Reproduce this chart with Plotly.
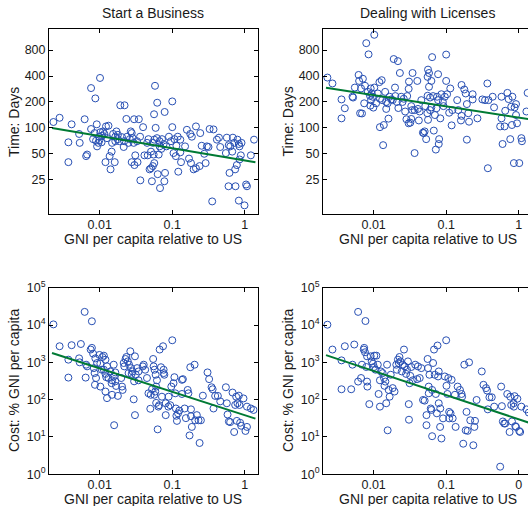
import plotly.graph_objects as go

# ---------------- data ----------------
# Panel 1: Start a Business - time (days) vs GNI per capita relative to US
biz_time_gni = [0.0023, 0.0028, 0.0037, 0.0037, 0.0041, 0.0052, 0.0053, 0.0062, 0.0065, 0.0067,
                0.0076, 0.0087, 0.0076, 0.0085, 0.0091, 0.0081, 0.0089, 0.0096, 0.0101, 0.0102,
                0.0108, 0.0116, 0.0099, 0.0106, 0.0122, 0.0132, 0.0126, 0.012, 0.0137, 0.0146,
                0.0141, 0.0161, 0.0153, 0.0164, 0.0148, 0.0178, 0.0192, 0.022, 0.0233, 0.0203,
                0.0217, 0.0238, 0.0214, 0.0249, 0.0276, 0.0284, 0.0298, 0.0346, 0.0276, 0.0301,
                0.0309, 0.0332, 0.0363, 0.0396, 0.0413, 0.0459, 0.0294, 0.0327, 0.0487, 0.0509,
                0.054, 0.0524, 0.0565, 0.0578, 0.062, 0.0561, 0.059, 0.0565, 0.0615, 0.054,
                0.067, 0.0722, 0.076, 0.067, 0.0509, 0.0553, 0.065, 0.0705, 0.063, 0.0678,
                0.0778, 0.0795, 0.0785, 0.1, 0.1, 0.096, 0.107, 0.114, 0.119, 0.104,
                0.112, 0.121, 0.129, 0.132, 0.159, 0.177, 0.186, 0.17, 0.181, 0.197,
                0.212, 0.212, 0.243, 0.254, 0.238, 0.276, 0.288, 0.327, 0.37, 0.412,
                0.44, 0.458, 0.355, 0.316, 0.548, 0.565, 0.6, 0.615, 0.596, 0.744,
                0.684, 0.713, 0.792, 0.827, 0.844, 0.776, 0.736, 0.844, 0.881, 0.827,
                0.99, 1.04, 1.07, 1.21, 1.34, 0.0098, 0.0111, 0.0092, 0.0178, 0.017,
                0.026, 0.0268, 0.0164, 0.0187, 0.036, 0.045, 0.047, 0.09, 0.083, 0.129,
                0.15, 0.3, 0.63, 0.67, 0.9]
biz_time_days = [117, 131, 68, 40, 110, 85, 67, 126, 47, 49,
                 290, 220, 97, 87, 110, 74, 71, 67, 380, 89,
                 81, 85, 72, 68, 104, 106, 76, 40, 47, 53,
                 33, 40, 85, 70, 67, 74, 183, 183, 127, 78,
                 70, 79, 60, 67, 87, 76, 126, 126, 40, 37,
                 48, 40, 24.6, 102, 48, 48, 67, 70, 33, 34,
                 36, 24, 39, 308, 196, 144, 100, 73, 76, 67,
                 70, 74, 65, 61, 53, 49, 49, 57, 29, 20,
                 24, 30, 153, 203, 102, 70, 74, 62, 79, 51,
                 47, 31, 52, 40, 95, 85, 79, 44, 39, 33,
                 34, 104, 87, 62, 36, 50, 39, 97, 96, 73,
                 77, 60, 14, 60, 51, 77, 63, 30, 21, 21,
                 77, 67, 73, 65, 61, 37, 33, 43, 48, 14.3,
                 12.6, 22, 21, 48, 73, 79, 91, 61, 83, 91,
                 74, 91, 79, 70, 79, 67, 74, 79, 61, 73,
                 61, 61, 61, 53, 67]

# Panel 2: Dealing with Licenses - time (days)
lic_time_gni = [0.0023, 0.0027, 0.0036, 0.004, 0.0036, 0.0051, 0.0052, 0.0055, 0.0062, 0.0063,
                0.0067, 0.0065, 0.0069, 0.0071, 0.0076, 0.0079, 0.0085, 0.0074, 0.0083, 0.0091,
                0.0089, 0.0092, 0.0102, 0.0102, 0.0097, 0.009, 0.0099, 0.0114, 0.012, 0.0129,
                0.0122, 0.0131, 0.0144, 0.0149, 0.0149, 0.0122, 0.0138, 0.016, 0.0135, 0.0166,
                0.0174, 0.0189, 0.0199, 0.0197, 0.0216, 0.0209, 0.0219, 0.023, 0.024, 0.025,
                0.026, 0.0272, 0.029, 0.0304, 0.0307, 0.0283, 0.0304, 0.033, 0.032, 0.0344,
                0.033, 0.034, 0.04, 0.0408, 0.0367, 0.042, 0.0478, 0.0505, 0.049, 0.053,
                0.0562, 0.058, 0.0555, 0.058, 0.0555, 0.06, 0.0515, 0.055, 0.06, 0.0562,
                0.0625, 0.064, 0.0625, 0.066, 0.07, 0.0675, 0.0774, 0.075, 0.0774, 0.072,
                0.08, 0.079, 0.083, 0.086, 0.0958, 0.092, 0.1, 0.1, 0.103, 0.11,
                0.114, 0.119, 0.122, 0.142, 0.163, 0.163, 0.16, 0.178, 0.186, 0.193,
                0.193, 0.202, 0.207, 0.232, 0.232, 0.27, 0.316, 0.344, 0.37, 0.383,
                0.376, 0.438, 0.458, 0.58, 0.58, 0.556, 0.6, 0.64, 0.653, 0.7,
                0.727, 0.766, 0.79, 0.82, 0.808, 0.86, 0.88, 0.92, 0.92, 0.95,
                1.02, 1.09, 1.11, 1.28, 1.33, 0.0094, 0.0108, 0.0156, 0.0183, 0.0367,
                0.0431, 0.0454, 0.0735, 0.09, 0.147]
lic_time_days = [384, 328, 214, 169, 129, 230, 225, 294, 412, 351,
                 287, 148, 147, 372, 308, 963, 714, 193, 262, 287,
                 236, 210, 1205, 294, 230, 181, 172, 251, 340, 358,
                 218, 210, 262, 200, 166, 102, 108, 128, 63, 230,
                 214, 630, 234, 294, 596, 200, 170, 434, 230, 200,
                 218, 155, 234, 284, 345, 126, 113, 127, 115, 434,
                 179, 161, 351, 166, 51, 122, 88, 91, 87, 74,
                 475, 434, 391, 300, 236, 225, 179, 148, 161, 124,
                 173, 663, 351, 234, 141, 93, 420, 230, 210, 56,
                 74, 65, 129, 246, 230, 179, 710, 351, 246, 150,
                 287, 107, 161, 210, 315, 138, 122, 279, 251, 189,
                 73, 148, 118, 246, 214, 129, 214, 210, 328, 210,
                 34, 230, 173, 230, 129, 104, 65, 104, 158, 255,
                 216, 74, 176, 230, 108, 39, 173, 189, 141, 113,
                 39, 76, 70, 155, 255, 251, 193, 193, 210, 161,
                 155, 210, 169, 200, 161]

# Panel 3: Start a Business - cost (% of GNI per capita)
biz_cost_gni = [0.0023, 0.0028, 0.0037, 0.0037, 0.0041, 0.0052, 0.0055, 0.0053, 0.0062, 0.0064,
                0.0065, 0.0067, 0.0078, 0.0075, 0.0078, 0.0081, 0.0087, 0.0083, 0.0085, 0.0089,
                0.0086, 0.0092, 0.0099, 0.0102, 0.0107, 0.0109, 0.0114, 0.0102, 0.0114, 0.012,
                0.012, 0.0123, 0.012, 0.0126, 0.0126, 0.0132, 0.014, 0.0146, 0.0148, 0.0156,
                0.0156, 0.0164, 0.0168, 0.0148, 0.0158, 0.0164, 0.0178, 0.0203, 0.0207, 0.0198,
                0.0214, 0.0218, 0.0227, 0.0233, 0.0244, 0.0254, 0.0264, 0.025, 0.027, 0.0276,
                0.0284, 0.0298, 0.0306, 0.0294, 0.0306, 0.0314, 0.0327, 0.0343, 0.0343, 0.0393,
                0.0404, 0.0423, 0.0448, 0.047, 0.0505, 0.0498, 0.0526, 0.0545, 0.0553, 0.057,
                0.0565, 0.0583, 0.06, 0.0615, 0.059, 0.06, 0.0629, 0.0644, 0.0658, 0.067,
                0.0699, 0.072, 0.0746, 0.076, 0.0777, 0.076, 0.0812, 0.0812, 0.0883, 0.089,
                0.0938, 0.097, 0.1, 0.104, 0.107, 0.11, 0.112, 0.114, 0.116, 0.12,
                0.125, 0.136, 0.14, 0.136, 0.148, 0.154, 0.163, 0.167, 0.173, 0.177,
                0.181, 0.181, 0.186, 0.203, 0.207, 0.218, 0.23, 0.238, 0.248, 0.264,
                0.306, 0.322, 0.348, 0.36, 0.37, 0.39, 0.425, 0.458, 0.548, 0.578,
                0.565, 0.603, 0.628, 0.677, 0.713, 0.736, 0.76, 0.776, 0.792, 0.827,
                0.844, 0.862, 0.89, 0.958, 1.02, 1.07, 1.07, 1.21, 1.32]
biz_cost_pct = [10400, 2700, 1180, 390, 2880, 1280, 3100, 1000, 22500, 390,
                865, 780, 12600, 2200, 2440, 1710, 1280, 700, 515, 380,
                250, 960, 1580, 920, 634, 1390, 1510, 224, 634, 1180,
                490, 400, 165, 110, 780, 380, 570, 276, 330, 865,
                419, 310, 233, 135, 20.7, 537, 126, 224, 182, 380,
                960, 780, 1230, 1390, 1060, 865, 1980, 515, 700, 490,
                570, 310, 1450, 102, 38.5, 465, 700, 570, 330, 780,
                865, 634, 380, 148, 135, 57, 190, 1230, 780, 634,
                135, 165, 224, 330, 465, 82, 16, 65, 71, 2200,
                740, 120, 2700, 515, 465, 634, 80, 38.5, 65, 120,
                71, 224, 3900, 276, 400, 148, 58, 37, 27, 43,
                51, 340, 355, 142, 58, 32, 182, 148, 11, 740,
                55, 36, 18.6, 865, 28, 38.5, 28, 6.9, 28, 128,
                537, 355, 215, 190, 58, 126, 126, 90, 215, 40,
                80, 26, 25, 155, 13.6, 72, 120, 27, 80, 128,
                72, 24, 20, 108, 14.5, 18.6, 65, 58, 53]

# Panel 4: Dealing with Licenses - cost (% of GNI per capita)
lic_cost_gni = [0.0023, 0.0027, 0.0036, 0.0036, 0.004, 0.0049, 0.0054, 0.0051, 0.0061, 0.0061,
                0.0067, 0.0069, 0.0073, 0.0074, 0.0077, 0.0076, 0.0081, 0.0079, 0.0081, 0.0082,
                0.0087, 0.0091, 0.0094, 0.0098, 0.0101, 0.0102, 0.0109, 0.0106, 0.0114, 0.0117,
                0.0122, 0.0126, 0.0122, 0.0133, 0.0139, 0.0141, 0.0145, 0.0149, 0.0156, 0.0153,
                0.0161, 0.0166, 0.0172, 0.0183, 0.0194, 0.0205, 0.0209, 0.0216, 0.0222, 0.0227,
                0.0234, 0.0244, 0.0252, 0.0262, 0.0267, 0.028, 0.0288, 0.0297, 0.0305, 0.0307,
                0.0313, 0.032, 0.033, 0.0346, 0.0374, 0.0408, 0.0398, 0.0432, 0.0454, 0.048,
                0.0505, 0.0535, 0.0535, 0.0555, 0.0562, 0.0575, 0.0575, 0.0588, 0.0613, 0.064,
                0.066, 0.0625, 0.064, 0.068, 0.0696, 0.072, 0.0744, 0.076, 0.079, 0.0774,
                0.079, 0.083, 0.0825, 0.0861, 0.0906, 0.0958, 0.1, 0.101, 0.107, 0.104,
                0.11, 0.11, 0.115, 0.119, 0.123, 0.132, 0.135, 0.144, 0.155, 0.163,
                0.166, 0.172, 0.178, 0.186, 0.191, 0.198, 0.207, 0.215, 0.237, 0.245,
                0.25, 0.263, 0.31, 0.327, 0.355, 0.367, 0.375, 0.395, 0.426, 0.46,
                0.556, 0.574, 0.587, 0.605, 0.632, 0.653, 0.696, 0.75, 0.766, 0.79,
                0.808, 0.852, 0.86, 0.88, 0.9, 0.92, 0.96, 1.02, 1.05, 1.09,
                1.28, 1.38]
lic_cost_pct = [10200, 2200, 1130, 190, 2700, 190, 3000, 865, 22500, 305,
                380, 865, 2200, 2440, 12800, 1860, 1450, 750, 305, 224,
                76, 1450, 1060, 920, 750, 1510, 1510, 634, 865, 142,
                330, 570, 65, 515, 380, 235, 305, 80, 15.1, 865,
                182, 120, 465, 204, 165, 865, 634, 1180, 960, 1390,
                1060, 570, 865, 2200, 780, 490, 634, 1060, 76, 29,
                276, 435, 750, 330, 865, 780, 355, 380, 700, 98,
                94, 20.7, 38.5, 1230, 700, 224, 148, 465, 58, 182,
                960, 53, 10.5, 2200, 465, 142, 43, 2820, 570, 419,
                80, 58, 18.6, 9.1, 31.5, 419, 3900, 235, 380, 142,
                47, 31.5, 43, 340, 31.5, 135, 18.6, 224, 182, 142,
                120, 6.6, 865, 15.1, 47, 14.6, 1000, 28, 6, 18.6,
                27, 98, 570, 250, 204, 175, 55, 116, 116, 65,
                1.6, 224, 67, 26, 23, 23, 142, 13.6, 120, 72,
                26, 80, 65, 124, 19.5, 18.6, 106, 14.4, 13.6, 65,
                55, 45]

# least-squares fit lines (log-log), endpoints
fit_gni = [0.0022, 1.4]
biz_time_fit = [100, 40]
lic_time_fit = [293, 126]
biz_cost_fit = [1780, 31]
lic_cost_fit = [1560, 24]

titles = ["Start a Business", "Dealing with Licenses"]
xlabel = "GNI per capita relative to US"
ylabel_time = "Time: Days"
ylabel_cost = "Cost: % GNI per capita"
x_tickvals = [0.01, 0.1, 1]
x_ticktext_left = ["0.01", "0.1", "1"]
x_ticktext_br = ["0.01", "0.1", "0"]
time_tickvals = [25, 50, 100, 200, 400, 800]
cost_tickvals = [1, 10, 100, 1000, 10000, 100000]
cost_ticktext = ["10<sup>0</sup>", "10<sup>1</sup>", "10<sup>2</sup>",
                 "10<sup>3</sup>", "10<sup>4</sup>", "10<sup>5</sup>"]

# ---------------- figure ----------------
W, H = 528, 506
FONT = "Liberation Sans, Arial, Helvetica, sans-serif"
TXT = "#1a1a1a"
BLUE = "rgb(40,80,180)"
GREEN = "rgb(0,122,52)"

fig = go.Figure()

panels = [
    (biz_time_gni, biz_time_days, biz_time_fit, "x", "y"),
    (lic_time_gni, lic_time_days, lic_time_fit, "x2", "y2"),
    (biz_cost_gni, biz_cost_pct, biz_cost_fit, "x3", "y3"),
    (lic_cost_gni, lic_cost_pct, lic_cost_fit, "x4", "y4"),
]
for gx, gy, fy, xa, ya in panels:
    fig.add_trace(go.Scatter(x=gx, y=gy, mode="markers", xaxis=xa, yaxis=ya,
                             marker=dict(symbol="circle-open", size=7, color=BLUE,
                                         line=dict(width=1, color=BLUE)),
                             showlegend=False, hoverinfo="skip"))
    fig.add_trace(go.Scatter(x=fit_gni, y=fy, mode="lines", xaxis=xa, yaxis=ya,
                             line=dict(color=GREEN, width=2),
                             showlegend=False, hoverinfo="skip"))

def px_x(p):
    return p / W

def px_y(p):
    return (H - p) / H

left_dom = [px_x(49), px_x(257.6)]
right_dom = [px_x(323), 1.0]
top_dom = [px_y(214), px_y(29.2)]
bot_dom = [px_y(474.3), px_y(287.7)]

common_axis = dict(showline=True, linecolor="black", linewidth=1, ticks="inside",
                   ticklen=4, tickcolor="black", showgrid=False, zeroline=False,
                   automargin=False,
                   tickfont=dict(family=FONT, size=12.5, color=TXT))

def xax(dom, rng, anchor, ticktext):
    d = dict(common_axis)
    d.update(type="log", domain=dom, range=rng, anchor=anchor, mirror="ticks",
             tickmode="array", tickvals=x_tickvals, ticktext=ticktext,
             ticklabelstandoff=-1)
    return d

def yax(dom, rng, anchor, tv, tt, mirror):
    d = dict(common_axis)
    d.update(type="log", domain=dom, range=rng, anchor=anchor, mirror=mirror,
             tickmode="array", tickvals=tv, ticktext=tt)
    return d

time_text = [str(v) for v in time_tickvals]
fig.update_layout(
    width=W, height=H, margin=dict(l=0, r=0, t=0, b=0, autoexpand=False),
    paper_bgcolor="white", plot_bgcolor="white",
    font=dict(family=FONT, color=TXT),
    xaxis=xax(left_dom, [-2.699, 0.176], "y", x_ticktext_left),
    xaxis2=xax(right_dom, [-2.699, 0.129], "y2", x_ticktext_left),
    xaxis3=xax(left_dom, [-2.699, 0.176], "y3", x_ticktext_left),
    xaxis4=xax(right_dom, [-2.699, 0.129], "y4", x_ticktext_br),
    yaxis=yax(top_dom, [1, 3.146], "x", time_tickvals, time_text, "ticks"),
    yaxis2=yax(top_dom, [1, 3.146], "x2", time_tickvals, time_text, False),
    yaxis3=yax(bot_dom, [0, 5], "x3", cost_tickvals, cost_ticktext, "ticks"),
    yaxis4=yax(bot_dom, [0, 5], "x4", cost_tickvals, cost_ticktext, False),
)

ann = []
def add_text(text, x, y, angle=0, size=14):
    ann.append(dict(text=text, x=px_x(x), y=px_y(y), xref="paper", yref="paper",
                    showarrow=False, xanchor="center", yanchor="middle",
                    textangle=angle, font=dict(family=FONT, size=size, color=TXT)))

add_text(titles[0], 153.3, 13)
add_text(titles[1], 427, 13)
add_text(xlabel, 153.3, 239)
add_text(xlabel, 427.5, 239)
add_text(xlabel, 153.3, 498.5)
add_text(xlabel, 428, 498.5)
add_text(ylabel_time, 14, 122, -90)
add_text(ylabel_time, 287.5, 122, -90)
add_text(ylabel_cost, 14, 381, -90)
add_text(ylabel_cost, 288, 381, -90)
fig.update_layout(annotations=ann)

# remove the browser's default page margin so the figure sits at the window origin
page_fix = ("document.documentElement.style.margin='0';"
            "document.body.style.margin='0';")

fig.write_html("out.html", post_script=page_fix, config={"displayModeBar": False})
